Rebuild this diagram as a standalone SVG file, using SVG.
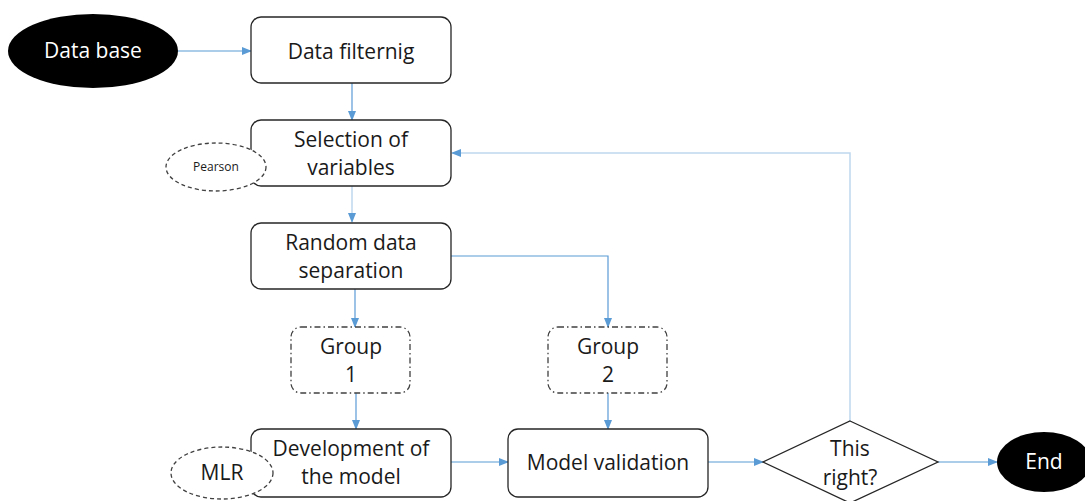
<svg xmlns="http://www.w3.org/2000/svg" width="1085" height="501" viewBox="0 0 1085 501">
<style>
.box{fill:#fff;stroke:#262626;stroke-width:1.3}
.grp{fill:#fff;stroke:#404040;stroke-width:1.3;stroke-dasharray:6 3 1.5 3}
.dash{fill:#fff;stroke:#404040;stroke-width:1.3;stroke-dasharray:4 3}
.term{fill:#000}
.t{font-family:"Open Sans","Liberation Sans",sans-serif;font-size:21px;fill:#1a1a1a;text-anchor:middle}
.tw{font-family:"Open Sans","Liberation Sans",sans-serif;font-size:21px;fill:#fff;text-anchor:middle}
.ts{font-family:"Open Sans","Liberation Sans",sans-serif;font-size:12px;fill:#1a1a1a;text-anchor:middle}
.c{fill:none;stroke:#5b9bd5;stroke-width:1.2}
.cl{fill:none;stroke:#bdd7ee;stroke-width:1.5}
</style>
<defs>
<marker id="ah" markerWidth="10" markerHeight="8" refX="9" refY="4" orient="auto" markerUnits="userSpaceOnUse">
<path d="M0,0 L10,4 L0,8 Z" fill="#5b9bd5"/>
</marker>
</defs>
<g id="connectors">
<line class="c" x1="178" y1="51" x2="251" y2="51" marker-end="url(#ah)"/>
<line class="c" x1="352" y1="83" x2="352" y2="120" marker-end="url(#ah)"/>
<line class="cl" x1="352" y1="186" x2="352" y2="222" marker-end="url(#ah)"/>
<line class="c" x1="355" y1="289" x2="355" y2="327" marker-end="url(#ah)"/>
<polyline class="c" points="451,256 608,256 608,327" marker-end="url(#ah)"/>
<line class="c" x1="356" y1="393" x2="356" y2="429" marker-end="url(#ah)"/>
<line class="c" x1="608" y1="393" x2="608" y2="429" marker-end="url(#ah)"/>
<line class="c" x1="451" y1="462" x2="508" y2="462" marker-end="url(#ah)"/>
<line class="c" x1="708" y1="462" x2="763" y2="462" marker-end="url(#ah)"/>
<line class="c" x1="938" y1="462" x2="997" y2="462" marker-end="url(#ah)"/>
<polyline class="cl" points="850,421 850,153 452,153" marker-end="url(#ah)"/>
</g>
<g id="database">
<ellipse class="term" cx="93" cy="51" rx="85" ry="37"/>
<text class="tw" x="93" y="58">Data base</text>
</g>
<g id="filtering">
<rect class="box" x="251" y="17" width="200" height="66" rx="10"/>
<text class="t" x="351" y="59">Data filternig</text>
</g>
<g id="selection">
<rect class="box" x="251" y="120" width="200" height="66" rx="10"/>
<text class="t" x="351" y="147">Selection of</text>
<text class="t" x="351" y="175">variables</text>
</g>
<g id="pearson">
<ellipse class="dash" cx="216" cy="167" rx="50" ry="24"/>
<text class="ts" x="216" y="171">Pearson</text>
</g>
<g id="random">
<rect class="box" x="251" y="223" width="200" height="66" rx="10"/>
<text class="t" x="351" y="250">Random data</text>
<text class="t" x="351" y="278">separation</text>
</g>
<g id="group1">
<rect class="grp" x="291" y="327" width="119" height="66" rx="10"/>
<text class="t" x="351" y="354">Group</text>
<text class="t" x="351" y="382">1</text>
</g>
<g id="group2">
<rect class="grp" x="548" y="327" width="119" height="66" rx="10"/>
<text class="t" x="608" y="354">Group</text>
<text class="t" x="608" y="382">2</text>
</g>
<g id="development">
<rect class="box" x="251" y="429" width="200" height="68" rx="10"/>
<text class="t" x="351" y="456">Development of</text>
<text class="t" x="351" y="484">the model</text>
</g>
<g id="mlr">
<ellipse class="dash" cx="222" cy="473" rx="51" ry="26"/>
<text class="t" x="222" y="480">MLR</text>
</g>
<g id="validation">
<rect class="box" x="508" y="429" width="200" height="68" rx="10"/>
<text class="t" x="608" y="470">Model validation</text>
</g>
<g id="decision">
<polygon class="box" points="850,421 938,462 850,503 763,462"/>
<text class="t" x="850" y="456">This</text>
<text class="t" x="850" y="485">right?</text>
</g>
<g id="end">
<ellipse class="term" cx="1044" cy="462" rx="47" ry="30"/>
<text class="tw" x="1044" y="469">End</text>
</g>
</svg>
